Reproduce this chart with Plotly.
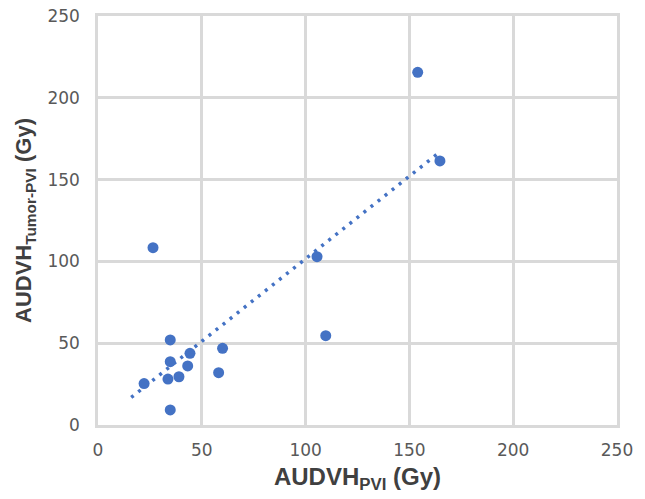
import numpy as np
import plotly.graph_objects as go

# Data
audvh_pvi = [26.5, 105.5, 109.7, 34.8, 60.0, 44.3, 34.8, 43.2, 58.1, 39.0, 33.7, 22.2, 34.8, 154.0, 164.7]
audvh_tumor_pvi = [108.4, 102.9, 54.6, 52.0, 46.9, 43.8, 38.7, 36.1, 32.0, 29.5, 28.1, 25.3, 9.2, 215.6, 161.4]
trend_x_start = 16.0  # trendline forecast backward start
tick_vals = [0, 50, 100, 150, 200, 250]
tick_text = ["0", "50", "100", "150", "200", "250"]

slope, intercept = np.polyfit(audvh_pvi, audvh_tumor_pvi, 1)
tx = np.array([trend_x_start, max(audvh_pvi)])
ty = slope * tx + intercept

blue = "#4472C4"
grid = "#D9D9D9"

fig = go.Figure()
fig.add_trace(go.Scatter(
    x=tx, y=ty, mode="lines",
    line=dict(color=blue, width=3.5, dash="3px,6px"),
    hoverinfo="skip", showlegend=False,
))
fig.add_trace(go.Scatter(
    x=audvh_pvi, y=audvh_tumor_pvi, mode="markers",
    marker=dict(color=blue, size=11, line=dict(width=0)),
    showlegend=False,
))

axis_common = dict(
    range=[0, 250],
    tickvals=tick_vals,
    ticktext=tick_text,
    showgrid=True, gridcolor=grid, gridwidth=2.5,
    zeroline=False,
    showline=True, linecolor=grid, linewidth=2.5, mirror=True,
    ticks="",
    tickfont=dict(family="DejaVu Sans", size=17, color="#595959"),
)

fig.update_xaxes(
    **axis_common,
    ticklabelstandoff=8,
    title=dict(text="AUDVH<sub>PVI</sub> (Gy)",
               font=dict(family="Liberation Sans", size=24, color="#404040", weight="bold"),
               standoff=10),
)
fig.update_yaxes(
    **axis_common,
    ticklabelstandoff=12,
    title=dict(text="AUDVH<sub>Tumor-PVI</sub> (Gy)",
               font=dict(family="Liberation Sans", size=22, color="#404040", weight="bold"),
               standoff=10),
)

fig.update_layout(
    width=645, height=499,
    margin=dict(l=98, r=28, t=16, b=74, autoexpand=False),
    paper_bgcolor="white", plot_bgcolor="white",
)

fig.write_html(
    "out.html",
    config={"displayModeBar": False},
    post_script="document.body.style.margin='0';document.body.style.overflow='hidden';",
)
